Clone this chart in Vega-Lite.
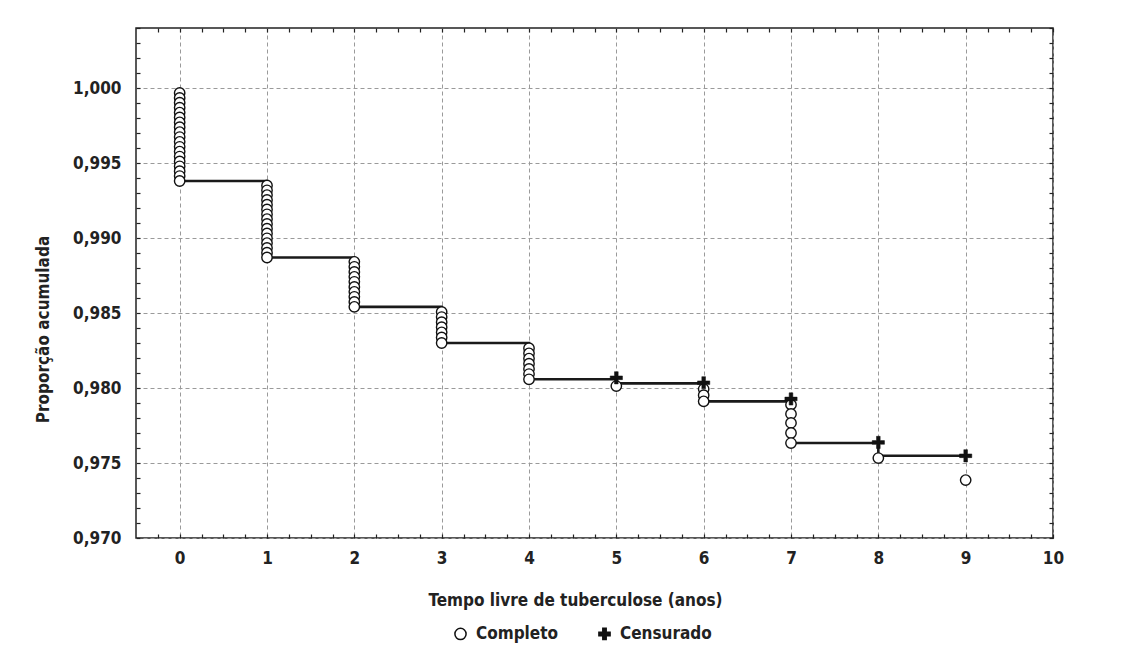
{
  "$schema": "https://vega.github.io/schema/vega-lite/v6.json",
  "width": 917,
  "height": 510,
  "autosize": {"type": "none"},
  "padding": {"left": 136, "top": 28, "right": 82, "bottom": 114},
  "background": "white",
  "config": {
    "font": "Liberation Sans Narrow, DejaVu Sans Condensed, sans-serif",
    "view": {"stroke": "#222", "strokeWidth": 1.5},
    "axis": {
      "labelFont": "Liberation Sans Narrow, DejaVu Sans Condensed, sans-serif",
      "labelFontSize": 17,
      "labelFontWeight": "bold",
      "labelColor": "#222",
      "titleFont": "Liberation Sans Narrow, DejaVu Sans Condensed, sans-serif",
      "titleFontSize": 17,
      "titleFontWeight": "bold",
      "titleColor": "#222",
      "tickColor": "#222",
      "tickWidth": 1.2,
      "domain": false,
      "labelOverlap": false,
      "labelFlush": false
    }
  },
  "datasets": {
    "curve": [
      {"t": 0, "p": 0.9938},
      {"t": 1, "p": 0.9887},
      {"t": 2, "p": 0.98541},
      {"t": 3, "p": 0.983},
      {"t": 4, "p": 0.98058},
      {"t": 5, "p": 0.98031},
      {"t": 6, "p": 0.97911},
      {"t": 7, "p": 0.97633},
      {"t": 8, "p": 0.97548},
      {"t": 9, "p": 0.97548}
    ],
    "pts": [
      {"t": 0, "p": 0.99967, "tipo": "Completo"},
      {"t": 0, "p": 0.99934, "tipo": "Completo"},
      {"t": 0, "p": 0.99902, "tipo": "Completo"},
      {"t": 0, "p": 0.99869, "tipo": "Completo"},
      {"t": 0, "p": 0.99836, "tipo": "Completo"},
      {"t": 0, "p": 0.99804, "tipo": "Completo"},
      {"t": 0, "p": 0.99771, "tipo": "Completo"},
      {"t": 0, "p": 0.99739, "tipo": "Completo"},
      {"t": 0, "p": 0.99706, "tipo": "Completo"},
      {"t": 0, "p": 0.99673, "tipo": "Completo"},
      {"t": 0, "p": 0.99641, "tipo": "Completo"},
      {"t": 0, "p": 0.99608, "tipo": "Completo"},
      {"t": 0, "p": 0.99576, "tipo": "Completo"},
      {"t": 0, "p": 0.99543, "tipo": "Completo"},
      {"t": 0, "p": 0.9951, "tipo": "Completo"},
      {"t": 0, "p": 0.99478, "tipo": "Completo"},
      {"t": 0, "p": 0.99445, "tipo": "Completo"},
      {"t": 0, "p": 0.99413, "tipo": "Completo"},
      {"t": 0, "p": 0.9938, "tipo": "Completo"},
      {"t": 1, "p": 0.9935, "tipo": "Completo"},
      {"t": 1, "p": 0.99318, "tipo": "Completo"},
      {"t": 1, "p": 0.99286, "tipo": "Completo"},
      {"t": 1, "p": 0.99254, "tipo": "Completo"},
      {"t": 1, "p": 0.99222, "tipo": "Completo"},
      {"t": 1, "p": 0.9919, "tipo": "Completo"},
      {"t": 1, "p": 0.99158, "tipo": "Completo"},
      {"t": 1, "p": 0.99126, "tipo": "Completo"},
      {"t": 1, "p": 0.99094, "tipo": "Completo"},
      {"t": 1, "p": 0.99062, "tipo": "Completo"},
      {"t": 1, "p": 0.9903, "tipo": "Completo"},
      {"t": 1, "p": 0.98998, "tipo": "Completo"},
      {"t": 1, "p": 0.98966, "tipo": "Completo"},
      {"t": 1, "p": 0.98934, "tipo": "Completo"},
      {"t": 1, "p": 0.98902, "tipo": "Completo"},
      {"t": 1, "p": 0.9887, "tipo": "Completo"},
      {"t": 2, "p": 0.98841, "tipo": "Completo"},
      {"t": 2, "p": 0.98808, "tipo": "Completo"},
      {"t": 2, "p": 0.98774, "tipo": "Completo"},
      {"t": 2, "p": 0.98741, "tipo": "Completo"},
      {"t": 2, "p": 0.98708, "tipo": "Completo"},
      {"t": 2, "p": 0.98674, "tipo": "Completo"},
      {"t": 2, "p": 0.98641, "tipo": "Completo"},
      {"t": 2, "p": 0.98608, "tipo": "Completo"},
      {"t": 2, "p": 0.98574, "tipo": "Completo"},
      {"t": 2, "p": 0.98541, "tipo": "Completo"},
      {"t": 3, "p": 0.98507, "tipo": "Completo"},
      {"t": 3, "p": 0.98473, "tipo": "Completo"},
      {"t": 3, "p": 0.98439, "tipo": "Completo"},
      {"t": 3, "p": 0.98405, "tipo": "Completo"},
      {"t": 3, "p": 0.98371, "tipo": "Completo"},
      {"t": 3, "p": 0.98337, "tipo": "Completo"},
      {"t": 3, "p": 0.983, "tipo": "Completo"},
      {"t": 4, "p": 0.98265, "tipo": "Completo"},
      {"t": 4, "p": 0.98231, "tipo": "Completo"},
      {"t": 4, "p": 0.98196, "tipo": "Completo"},
      {"t": 4, "p": 0.98162, "tipo": "Completo"},
      {"t": 4, "p": 0.98127, "tipo": "Completo"},
      {"t": 4, "p": 0.98093, "tipo": "Completo"},
      {"t": 4, "p": 0.98058, "tipo": "Completo"},
      {"t": 5, "p": 0.98013, "tipo": "Completo"},
      {"t": 6, "p": 0.97993, "tipo": "Completo"},
      {"t": 6, "p": 0.97952, "tipo": "Completo"},
      {"t": 6, "p": 0.97911, "tipo": "Completo"},
      {"t": 7, "p": 0.97889, "tipo": "Completo"},
      {"t": 7, "p": 0.97827, "tipo": "Completo"},
      {"t": 7, "p": 0.97767, "tipo": "Completo"},
      {"t": 7, "p": 0.977, "tipo": "Completo"},
      {"t": 7, "p": 0.97633, "tipo": "Completo"},
      {"t": 8, "p": 0.97533, "tipo": "Completo"},
      {"t": 9, "p": 0.97386, "tipo": "Completo"},
      {"t": 5, "p": 0.98068, "tipo": "Censurado"},
      {"t": 6, "p": 0.98035, "tipo": "Censurado"},
      {"t": 7, "p": 0.97927, "tipo": "Censurado"},
      {"t": 8, "p": 0.97637, "tipo": "Censurado"},
      {"t": 9, "p": 0.97548, "tipo": "Censurado"}
    ]
  },
  "layer": [
    {
      "data": {"name": "curve"},
      "mark": {"type": "line", "interpolate": "step-after", "color": "#1a1a1a", "strokeWidth": 2.6},
      "encoding": {
        "x": {
          "field": "t", "type": "quantitative",
          "scale": {"domain": [-0.5, 10], "nice": false, "zero": false},
          "axis": {
            "orient": "bottom",
            "values": [-0.25,0,0.25,0.5,0.75,1,1.25,1.5,1.75,2,2.25,2.5,2.75,3,3.25,3.5,3.75,4,4.25,4.5,4.75,5,5.25,5.5,5.75,6,6.25,6.5,6.75,7,7.25,7.5,7.75,8,8.25,8.5,8.75,9,9.25,9.5,9.75,10],
            "labelExpr": "datum.value % 1 === 0 ? format(datum.value, 'd') : ''",
            "grid": true,
            "gridColor": "#9a9a9a",
            "gridDash": [4, 3],
            "gridWidth": 1,
            "gridOpacity": {"condition": {"test": "datum.value % 1 === 0", "value": 1}, "value": 0},
            "tickSize": -4,
            "labelPadding": 16,
            "title": "Tempo livre de tuberculose (anos)",
            "titleX": 439,
            "titleY": 67,
            "titleBaseline": "alphabetic",
            "titleAlign": "center"
          }
        },
        "y": {
          "field": "p", "type": "quantitative",
          "scale": {"domain": [0.97, 1.004], "nice": false, "zero": false},
          "axis": {
            "orient": "left",
            "values": [0.97,0.971,0.972,0.973,0.974,0.975,0.976,0.977,0.978,0.979,0.98,0.981,0.982,0.983,0.984,0.985,0.986,0.987,0.988,0.989,0.99,0.991,0.992,0.993,0.994,0.995,0.996,0.997,0.998,0.999,1,1.001,1.002,1.003,1.004],
            "labelExpr": "round(datum.value * 1000) % 5 === 0 ? replace(format(datum.value, '.3f'), '.', ',') : ''",
            "grid": true,
            "gridColor": "#9a9a9a",
            "gridDash": [4, 3],
            "gridWidth": 1,
            "gridOpacity": {"condition": {"test": "round(datum.value * 1000) % 5 === 0", "value": 1}, "value": 0},
            "tickSize": -4,
            "labelPadding": 19,
            "title": "Proporção acumulada",
            "titleX": -88,
            "titleY": 301,
            "titleAngle": -90,
            "titleAlign": "center",
            "titleBaseline": "alphabetic"
          }
        }
      }
    },
    {
      "data": {"name": "pts"},
      "transform": [{"filter": "datum.tipo === 'Completo'"}],
      "mark": {"type": "point", "filled": true, "stroke": "#111", "strokeWidth": 1.4, "size": 108, "opacity": 1},
      "encoding": {
        "x": {"field": "t", "type": "quantitative", "scale": {"domain": [-0.5, 10], "nice": false, "zero": false}, "axis": null},
        "y": {"field": "p", "type": "quantitative", "scale": {"domain": [0.97, 1.004], "nice": false, "zero": false}, "axis": null},
        "shape": {
          "field": "tipo", "type": "nominal",
          "scale": {"domain": ["Completo", "Censurado"], "range": ["circle", "M-1,-0.3H-0.3V-1H0.3V-0.3H1V0.3H0.3V1H-0.3V0.3H-1Z"]},
          "legend": {
            "orient": "none", "legendX": 316, "legendY": 597, "direction": "horizontal", "title": null,
            "labelFont": "Liberation Sans Narrow, DejaVu Sans Condensed, sans-serif", "labelFontSize": 17, "labelFontWeight": "bold", "labelColor": "#222",
            "symbolSize": 125, "symbolOpacity": 1,
            "columnPadding": 36, "labelOffset": 7,
            "encode": {"symbols": {"update": {"stroke": {"value": "#111"}, "strokeWidth": {"value": 1.2}}}}
          }
        },
        "fill": {
          "field": "tipo", "type": "nominal",
          "scale": {"domain": ["Completo", "Censurado"], "range": ["white", "#111"]},
          "legend": {
            "orient": "none", "legendX": 316, "legendY": 597, "direction": "horizontal", "title": null,
            "labelFont": "Liberation Sans Narrow, DejaVu Sans Condensed, sans-serif", "labelFontSize": 17, "labelFontWeight": "bold", "labelColor": "#222",
            "symbolSize": 125, "symbolOpacity": 1,
            "columnPadding": 36, "labelOffset": 7,
            "encode": {"symbols": {"update": {"stroke": {"value": "#111"}, "strokeWidth": {"value": 1.2}}}}
          }
        }
      }
    },
    {
      "data": {"name": "pts"},
      "transform": [{"filter": "datum.tipo === 'Censurado'"}],
      "mark": {"type": "point", "filled": true, "stroke": "#111", "strokeWidth": 0.5, "size": 150, "opacity": 1},
      "encoding": {
        "x": {
          "field": "t", "type": "quantitative",
          "scale": {"domain": [-0.5, 10], "nice": false, "zero": false},
          "axis": {
            "orient": "top",
            "values": [-0.25,0,0.25,0.5,0.75,1,1.25,1.5,1.75,2,2.25,2.5,2.75,3,3.25,3.5,3.75,4,4.25,4.5,4.75,5,5.25,5.5,5.75,6,6.25,6.5,6.75,7,7.25,7.5,7.75,8,8.25,8.5,8.75,9,9.25,9.5,9.75,10],
            "labels": false, "grid": false, "tickSize": -4, "title": null
          }
        },
        "y": {
          "field": "p", "type": "quantitative",
          "scale": {"domain": [0.97, 1.004], "nice": false, "zero": false},
          "axis": {
            "orient": "right",
            "values": [0.97,0.971,0.972,0.973,0.974,0.975,0.976,0.977,0.978,0.979,0.98,0.981,0.982,0.983,0.984,0.985,0.986,0.987,0.988,0.989,0.99,0.991,0.992,0.993,0.994,0.995,0.996,0.997,0.998,0.999,1,1.001,1.002,1.003,1.004],
            "labels": false, "grid": false, "tickSize": -4, "title": null
          }
        },
        "shape": {"field": "tipo", "type": "nominal", "scale": {"domain": ["Completo", "Censurado"], "range": ["circle", "M-1,-0.3H-0.3V-1H0.3V-0.3H1V0.3H0.3V1H-0.3V0.3H-1Z"]}},
        "fill": {"field": "tipo", "type": "nominal", "scale": {"domain": ["Completo", "Censurado"], "range": ["white", "#111"]}}
      }
    }
  ],
  "resolve": {"axis": {"x": "independent", "y": "independent"}}
}
